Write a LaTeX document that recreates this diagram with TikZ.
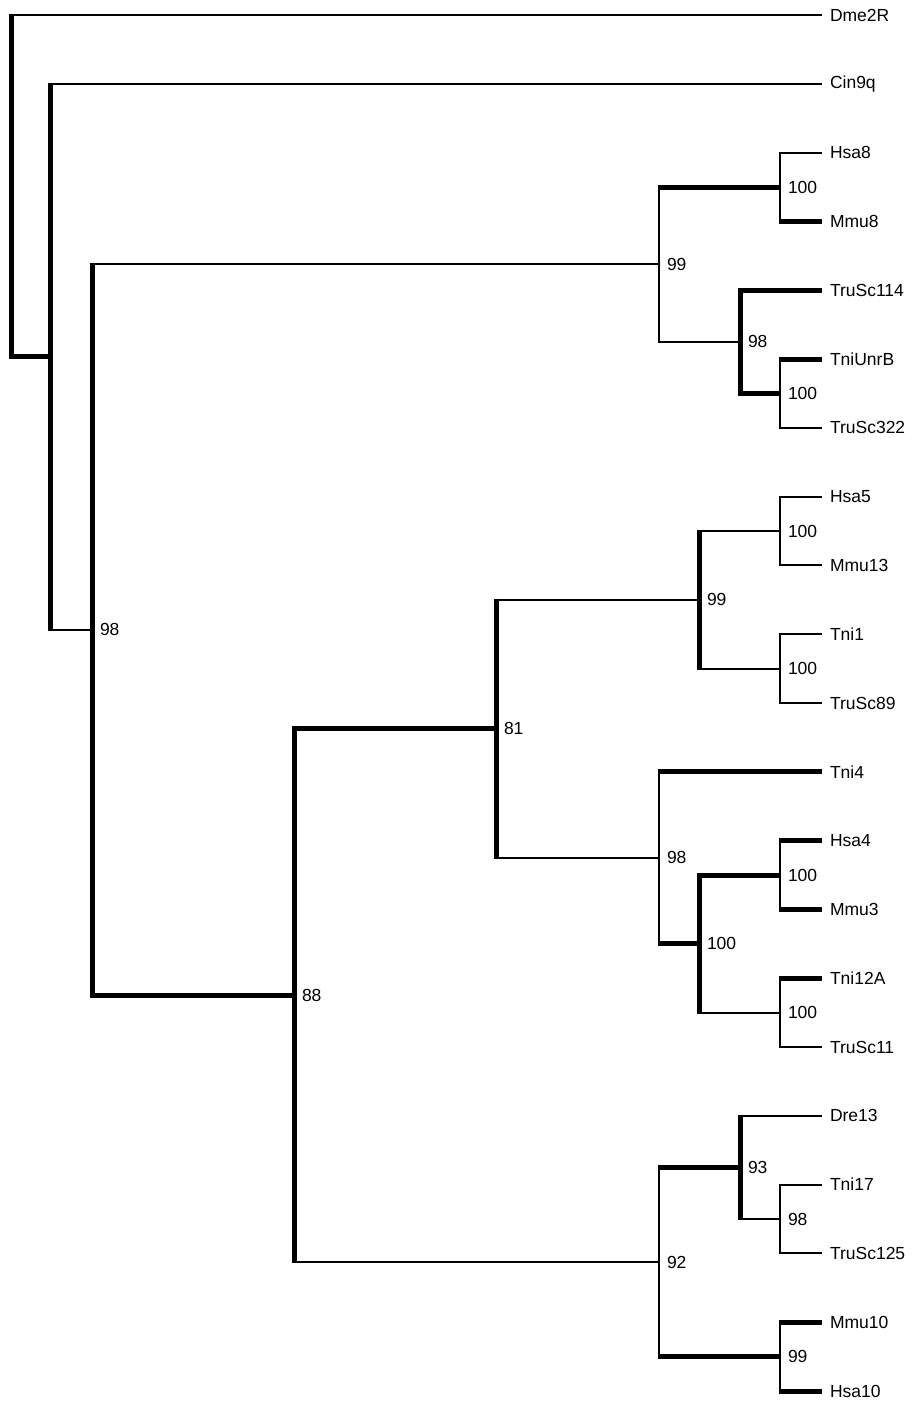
\documentclass[tikz,border=0pt]{standalone}
\usepackage{fontspec}
\setmainfont{Liberation Sans}
\begin{document}
\begin{tikzpicture}[x=1pt,y=-1pt,
  lbl/.style={anchor=west, inner xsep=8pt, inner ysep=0pt, outer sep=0pt, font=\fontsize{17.5}{20}\selectfont},
  vn/.style={line width=2pt},
  vk/.style={line width=5pt},
  tn/.style={shorten <=-1pt}, tk/.style={shorten <=-2.5pt},
  bn/.style={shorten >=-1pt}, bk/.style={shorten >=-2.5pt},
  hn/.style={line width=2pt},
  hk/.style={line width=5pt},
  fn/.style={shorten <=-1pt}, fk/.style={shorten <=-2.5pt}]
\useasboundingbox (0,0) rectangle (914,1405);
% leaves
\node[lbl] (Dme2R)    at (822,15)     {Dme2R};
\node[lbl] (Cin9q)    at (822,83.8)   {Cin9q};
\node[lbl] (Hsa8)     at (822,152.6)  {Hsa8};
\node[lbl] (Mmu8)     at (822,221.4)  {Mmu8};
\node[lbl] (TruSc114) at (822,290.2)  {TruSc114};
\node[lbl] (TniUnrB)  at (822,359)    {TniUnrB};
\node[lbl] (TruSc322) at (822,427.8)  {TruSc322};
\node[lbl] (Hsa5)     at (822,496.6)  {Hsa5};
\node[lbl] (Mmu13)    at (822,565.4)  {Mmu13};
\node[lbl] (Tni1)     at (822,634.2)  {Tni1};
\node[lbl] (TruSc89)  at (822,703)    {TruSc89};
\node[lbl] (Tni4)     at (822,771.8)  {Tni4};
\node[lbl] (Hsa4)     at (822,840.6)  {Hsa4};
\node[lbl] (Mmu3)     at (822,909.4)  {Mmu3};
\node[lbl] (Tni12A)   at (822,978.2)  {Tni12A};
\node[lbl] (TruSc11)  at (822,1047)   {TruSc11};
\node[lbl] (Dre13)    at (822,1115.8) {Dre13};
\node[lbl] (Tni17)    at (822,1184.6) {Tni17};
\node[lbl] (TruSc125) at (822,1253.4) {TruSc125};
\node[lbl] (Mmu10)    at (822,1322.2) {Mmu10};
\node[lbl] (Hsa10)    at (822,1391)   {Hsa10};
% internal nodes with support values
\coordinate (root) at (11,185.9);
\node[lbl] (A) at (50,356.85) {};
\node[lbl] (B) at (92,629.9)  {98};
\node[lbl] (C) at (659,264.4) {99};
\node[lbl] (D) at (780,187)   {100};
\node[lbl] (E) at (740,341.8) {98};
\node[lbl] (F) at (780,393.4) {100};
\node[lbl] (G) at (294,995.4) {88};
\node[lbl] (H) at (496,728.8) {81};
\node[lbl] (I) at (699,599.8) {99};
\node[lbl] (J) at (780,531)   {100};
\node[lbl] (K) at (780,668.6) {100};
\node[lbl] (L) at (659,857.8) {98};
\node[lbl] (M) at (699,943.8) {100};
\node[lbl] (N) at (780,875)   {100};
\node[lbl] (O) at (780,1012.6){100};
\node[lbl] (P) at (659,1262)  {92};
\node[lbl] (Q) at (740,1167.4){93};
\node[lbl] (R) at (780,1219)  {98};
\node[lbl] (S) at (780,1356.6){99};
% root
\draw[vk,tn,bk] (root |- Dme2R.west) -- (root |- A.west);
\draw[hn,fk] (root |- Dme2R.west) -- (Dme2R.west);
\draw[hk,fk] (root |- A.west) -- (A.west);
% A
\draw[vk,tn,bn] (A.west |- Cin9q.west) -- (A.west |- B.west);
\draw[hn,fk] (A.west |- Cin9q.west) -- (Cin9q.west);
\draw[hn,fk] (A.west |- B.west) -- (B.west);
% B
\draw[vk,tn,bk] (B.west |- C.west) -- (B.west |- G.west);
\draw[hn,fk] (B.west |- C.west) -- (C.west);
\draw[hk,fk] (B.west |- G.west) -- (G.west);
% C
\draw[vn,tk,bn] (C.west |- D.west) -- (C.west |- E.west);
\draw[hk,fn] (C.west |- D.west) -- (D.west);
\draw[hn,fn] (C.west |- E.west) -- (E.west);
% D
\draw[vn,tn,bk] (D.west |- Hsa8.west) -- (D.west |- Mmu8.west);
\draw[hn,fn] (D.west |- Hsa8.west) -- (Hsa8.west);
\draw[hk,fn] (D.west |- Mmu8.west) -- (Mmu8.west);
% E
\draw[vk,tk,bk] (E.west |- TruSc114.west) -- (E.west |- F.west);
\draw[hk,fk] (E.west |- TruSc114.west) -- (TruSc114.west);
\draw[hk,fk] (E.west |- F.west) -- (F.west);
% F
\draw[vn,tk,bn] (F.west |- TniUnrB.west) -- (F.west |- TruSc322.west);
\draw[hk,fn] (F.west |- TniUnrB.west) -- (TniUnrB.west);
\draw[hn,fn] (F.west |- TruSc322.west) -- (TruSc322.west);
% G
\draw[vk,tk,bn] (G.west |- H.west) -- (G.west |- P.west);
\draw[hk,fk] (G.west |- H.west) -- (H.west);
\draw[hn,fk] (G.west |- P.west) -- (P.west);
% H
\draw[vk,tn,bn] (H.west |- I.west) -- (H.west |- L.west);
\draw[hn,fk] (H.west |- I.west) -- (I.west);
\draw[hn,fk] (H.west |- L.west) -- (L.west);
% I
\draw[vk,tn,bn] (I.west |- J.west) -- (I.west |- K.west);
\draw[hn,fk] (I.west |- J.west) -- (J.west);
\draw[hn,fk] (I.west |- K.west) -- (K.west);
% J
\draw[vn,tn,bn] (J.west |- Hsa5.west) -- (J.west |- Mmu13.west);
\draw[hn,fn] (J.west |- Hsa5.west) -- (Hsa5.west);
\draw[hn,fn] (J.west |- Mmu13.west) -- (Mmu13.west);
% K
\draw[vn,tn,bn] (K.west |- Tni1.west) -- (K.west |- TruSc89.west);
\draw[hn,fn] (K.west |- Tni1.west) -- (Tni1.west);
\draw[hn,fn] (K.west |- TruSc89.west) -- (TruSc89.west);
% L
\draw[vn,tk,bk] (L.west |- Tni4.west) -- (L.west |- M.west);
\draw[hk,fn] (L.west |- Tni4.west) -- (Tni4.west);
\draw[hk,fn] (L.west |- M.west) -- (M.west);
% M
\draw[vk,tk,bn] (M.west |- N.west) -- (M.west |- O.west);
\draw[hk,fk] (M.west |- N.west) -- (N.west);
\draw[hn,fk] (M.west |- O.west) -- (O.west);
% N
\draw[vn,tk,bk] (N.west |- Hsa4.west) -- (N.west |- Mmu3.west);
\draw[hk,fn] (N.west |- Hsa4.west) -- (Hsa4.west);
\draw[hk,fn] (N.west |- Mmu3.west) -- (Mmu3.west);
% O
\draw[vn,tk,bn] (O.west |- Tni12A.west) -- (O.west |- TruSc11.west);
\draw[hk,fn] (O.west |- Tni12A.west) -- (Tni12A.west);
\draw[hn,fn] (O.west |- TruSc11.west) -- (TruSc11.west);
% P
\draw[vn,tk,bk] (P.west |- Q.west) -- (P.west |- S.west);
\draw[hk,fn] (P.west |- Q.west) -- (Q.west);
\draw[hk,fn] (P.west |- S.west) -- (S.west);
% Q
\draw[vk,tn,bn] (Q.west |- Dre13.west) -- (Q.west |- R.west);
\draw[hn,fk] (Q.west |- Dre13.west) -- (Dre13.west);
\draw[hn,fk] (Q.west |- R.west) -- (R.west);
% R
\draw[vn,tn,bn] (R.west |- Tni17.west) -- (R.west |- TruSc125.west);
\draw[hn,fn] (R.west |- Tni17.west) -- (Tni17.west);
\draw[hn,fn] (R.west |- TruSc125.west) -- (TruSc125.west);
% S
\draw[vn,tk,bk] (S.west |- Mmu10.west) -- (S.west |- Hsa10.west);
\draw[hk,fn] (S.west |- Mmu10.west) -- (Mmu10.west);
\draw[hk,fn] (S.west |- Hsa10.west) -- (Hsa10.west);
\end{tikzpicture}
\end{document}
